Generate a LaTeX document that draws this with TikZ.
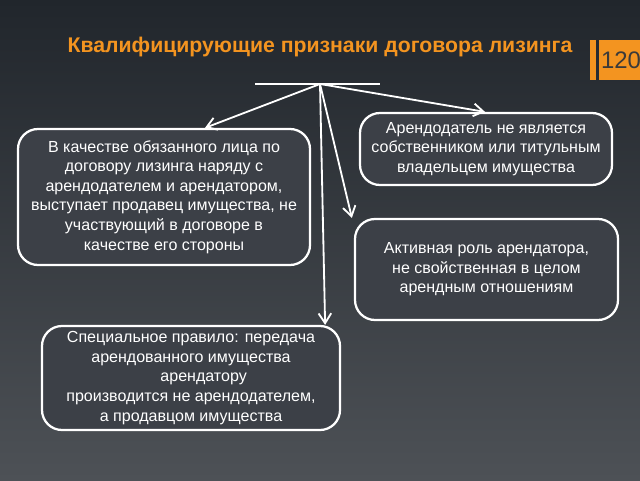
\documentclass[tikz,border=0pt]{standalone}
\usepackage{fontspec}
\setmainfont{Liberation Sans}
\usetikzlibrary{arrows.meta}
\definecolor{bgtop}{HTML}{21262C}
\definecolor{bgbot}{HTML}{4D5156}
\definecolor{boxfill}{HTML}{3C4047}
\definecolor{orng}{HTML}{F39420}
\definecolor{numgray}{HTML}{3A3A3A}
\begin{document}
\begin{tikzpicture}[
  box/.style={draw=white, line width=1.6pt, fill=boxfill, rounded corners=0.5cm,
    align=center, text=white, inner sep=2pt,
    font=\fontsize{11.4}{13.9}\selectfont},
  arr/.style={white, line width=1.3pt, -{Straight Barb[length=7pt,width=9pt]}}
]
\useasboundingbox (0,0) rectangle (16,12);
\shade[top color=bgtop, bottom color=bgbot] (0,0) rectangle (16,12);
% title and page number
\node[text=orng, font=\fontsize{15.1}{17}\selectfont\bfseries] (title) at (8,10.825) {Квалифицирующие признаки договора лизинга};
\fill[orng] (14.75,10) rectangle (14.89,11);
\fill[orng] (14.97,10) rectangle (16,11);
\begin{scope}
\clip (0,0) rectangle (16,12);
\node[anchor=west, inner sep=0pt, text=numgray, font=\fontsize{17}{19}\selectfont] (num) at (15.02,10.5) {120};
\end{scope}
% the bar and its branch point
\coordinate (barl) at (6.375,9.9);
\coordinate (barr) at (9.5,9.9);
\coordinate (top) at (8,9.9);
\draw[white, line width=2pt] (barl) -- (barr);
% boxes
\node[box, minimum width=7.3cm, minimum height=3.4cm] (left) at (4.1,7.075)
  {В качестве обязанного лица по\\договору лизинга наряду с\\арендодателем и арендатором,\\выступает продавец имущества, не\\участвующий в договоре в\\качестве его стороны};
\node[box, minimum width=6.3cm, minimum height=1.8cm] (owner) at (12.15,8.275)
  {Арендодатель не является\\собственником или титульным\\владельцем имущества};
\node[box, minimum width=6.575cm, minimum height=2.525cm] (role) at (12.1625,5.2625)
  {Активная роль арендатора,\\не свойственная в целом\\арендным отношениям};
\node[box, minimum width=7.45cm, minimum height=2.6cm] (rule) at (4.775,2.55)
  {Специальное правило: передача\\арендованного имущества\\\hspace*{18pt}арендатору\\производится не арендодателем,\\а продавцом имущества};
% arrows
\draw[arr] (top) -- ([xshift=1.025cm]left.north);
\draw[arr] (top) -- ([xshift=-0.025cm]owner.north);
\draw[arr] (top) -- ([xshift=-0.05cm]role.north west);
\draw[arr] (top) -- ([xshift=-0.4cm]rule.north east);
\end{tikzpicture}
\end{document}
